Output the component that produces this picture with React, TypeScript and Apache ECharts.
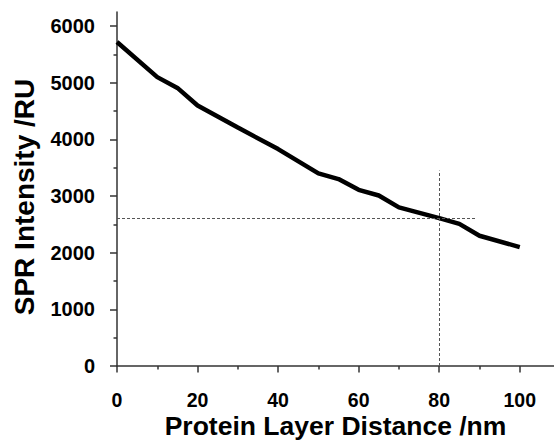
import React, { useEffect, useRef } from "react";
import * as echarts from "echarts";

const distances = [0, 10, 15, 20, 30, 40, 50, 55, 60, 65, 70, 80, 85, 90, 100];
const intensities = [5720, 5100, 4910, 4600, 4210, 3830, 3400, 3300, 3110, 3010, 2800, 2610, 2510, 2300, 2100];
const xMajorTicks = [0, 20, 40, 60, 80, 100];
const xMinorTicks = [10, 30, 50, 70, 90];
const yMajorTicks = [0, 1000, 2000, 3000, 4000, 5000, 6000];
const yMinorTicks = [500, 1500, 2500, 3500, 4500, 5500];
const hGuide = { y: 2610, xFrom: 0, xTo: 89 };
const vGuide = { x: 80, yFrom: 0, yTo: 3450 };
const xMax = 108.5;
const yMax = 6250;

const FONT = "'Liberation Sans', Arial, sans-serif";
const AXIS_COLOR = "#333";

export default function App() {
  const ref = useRef<HTMLDivElement>(null);
  useEffect(() => {
    if (!ref.current) return;
    const chart = echarts.init(ref.current, undefined, { renderer: "svg" });
    const baseX = {
      type: "value" as const,
      min: 0,
      max: xMax,
      position: "bottom" as const,
      splitLine: { show: false },
    };
    const baseY = {
      type: "value" as const,
      min: 0,
      max: yMax,
      position: "left" as const,
      splitLine: { show: false },
    };
    chart.setOption({
      animation: false,
      backgroundColor: "#fff",
      grid: { left: 117, right: 0, top: 12, bottom: 76, containLabel: false, outerBoundsMode: "none" },
      xAxis: [
        {
          ...baseX,
          name: "Protein Layer Distance /nm",
          nameLocation: "middle",
          nameGap: 50,
          nameMoveOverlap: false,
          nameTextStyle: { fontFamily: FONT, fontWeight: "bold", fontSize: 26.5, color: "#000", lineHeight: 20 },
          axisLine: { show: true, lineStyle: { color: AXIS_COLOR, width: 1.5 } },
          axisTick: { show: true, customValues: xMajorTicks, length: 6.5, inside: false, lineStyle: { color: AXIS_COLOR, width: 1.5 } },
          axisLabel: { customValues: xMajorTicks, margin: 26, lineHeight: 16, fontFamily: FONT, fontWeight: "bold", fontSize: 19.5, color: "#000", formatter: (v: number) => String(v) },
        },
        {
          ...baseX,
          axisLine: { show: false },
          axisTick: { show: true, customValues: xMinorTicks, length: 3.5, lineStyle: { color: AXIS_COLOR, width: 1.5 } },
          axisLabel: { show: false },
        },
      ],
      yAxis: [
        {
          ...baseY,
          name: "SPR Intensity /RU",
          nameLocation: "middle",
          nameGap: 79,
          nameMoveOverlap: false,
          nameTextStyle: { fontFamily: FONT, fontWeight: "bold", fontSize: 28, color: "#000", padding: [0, 16, 0, 0] },
          axisLine: { show: true, lineStyle: { color: AXIS_COLOR, width: 1.5 } },
          axisTick: { show: true, customValues: yMajorTicks, length: 7, lineStyle: { color: AXIS_COLOR, width: 1.5 } },
          axisLabel: { customValues: yMajorTicks, margin: 22, fontFamily: FONT, fontWeight: "bold", fontSize: 20, color: "#000", formatter: (v: number) => String(v) },
        },
        {
          ...baseY,
          axisLine: { show: false },
          axisTick: { show: true, customValues: yMinorTicks, length: 3.5, lineStyle: { color: AXIS_COLOR, width: 1.5 } },
          axisLabel: { show: false },
        },
      ],
      series: [
        {
          type: "line",
          data: distances.map((d, i) => [d, intensities[i]]),
          showSymbol: false,
          symbol: "none",
          lineStyle: { color: "#000", width: 4.5 },
          markLine: {
            silent: true,
            symbol: "none",
            label: { show: false },
            lineStyle: { color: "#555", width: 1, type: [3, 2] },
            data: [
              [{ coord: [hGuide.xFrom, hGuide.y] }, { coord: [hGuide.xTo, hGuide.y] }],
              [{ coord: [vGuide.x, vGuide.yFrom] }, { coord: [vGuide.x, vGuide.yTo] }],
            ],
          },
          z: 3,
        },
      ],
    });
    return () => chart.dispose();
  }, []);
  return (
    <div
      ref={ref}
      style={{ position: "fixed", left: 0, top: 0, width: 554, height: 442, background: "#fff" }}
    />
  );
}
